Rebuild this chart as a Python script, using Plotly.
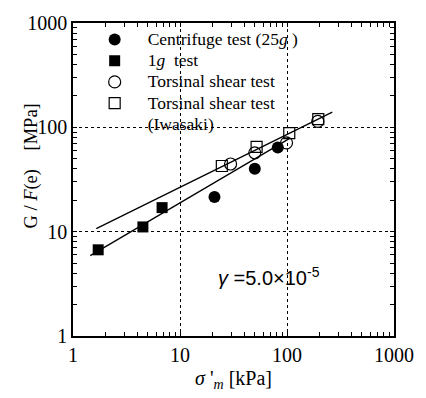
import plotly.graph_objects as go

# Data
cent_x = [21, 50, 82]
cent_y = [21.5, 40, 64]
oneg_x = [1.72, 4.5, 6.8]
oneg_y = [6.7, 11.1, 17]
tors_x = [29.7, 50, 99, 194]
tors_y = [44.5, 57, 71, 114]
iwa_x = [24.6, 52, 105, 196]
iwa_y = [42.6, 65, 88, 120]

# fitted lines (end points)
fit_upper_x = [1.65, 265]
fit_upper_y = [10.7, 140]
fit_lower_x = [1.45, 105]
fit_lower_y = [5.9, 78]

serif = "Liberation Serif"


def big(s):
    return '<span style="font-size:17.5px">' + s + '</span>'


fig = go.Figure()
fig.add_trace(go.Scatter(x=fit_upper_x, y=fit_upper_y, mode="lines",
                         line=dict(color="black", width=1.3), showlegend=False))
fig.add_trace(go.Scatter(x=fit_lower_x, y=fit_lower_y, mode="lines",
                         line=dict(color="black", width=1.3), showlegend=False))
fig.add_trace(go.Scatter(x=cent_x, y=cent_y, mode="markers", name=big("Centrifuge test (25<i>g</i> )"),
                         marker=dict(symbol="circle", size=12, color="black")))
fig.add_trace(go.Scatter(x=oneg_x, y=oneg_y, mode="markers", name=big("1<i>g</i>&nbsp;&nbsp;test"),
                         marker=dict(symbol="square", size=11, color="black")))
fig.add_trace(go.Scatter(x=tors_x, y=tors_y, mode="markers", name=big("Torsinal shear test"),
                         marker=dict(symbol="circle-open", size=12, color="black", line=dict(width=1.2))))
fig.add_trace(go.Scatter(x=iwa_x, y=iwa_y, mode="markers", name=big("Torsinal shear test"),
                         legendgroup="iwa",
                         marker=dict(symbol="square-open", size=11, color="black", line=dict(width=1.2))))
# second line of the Iwasaki legend label
fig.add_trace(go.Scatter(x=[None], y=[None], mode="markers", name=big("(Iwasaki)"),
                         legendgroup="iwa",
                         marker=dict(symbol="square-open", size=11, color="rgba(0,0,0,0)")))

axis_common = dict(
    type="log", range=[0, 3], dtick=1,
    showline=True, linecolor="black", linewidth=1.5, mirror="allticks",
    ticks="inside", ticklen=4, tickcolor="black",
    showgrid=True, gridcolor="black", gridwidth=1, griddash="dot",
    minor=dict(ticks="inside", ticklen=4, tickcolor="black", showgrid=False),
    tickfont=dict(family=serif, size=20, color="black"),
    zeroline=False,
)
fig.update_xaxes(**axis_common,
                 title=dict(text="<i>σ</i>&nbsp;'<sub><i>m</i></sub>&nbsp;[kPa]",
                            font=dict(family=serif, size=20, color="black"), standoff=6))
fig.update_yaxes(**axis_common)

fig.add_annotation(text="G / <i>F</i>(e)&nbsp;&nbsp;&nbsp;&nbsp;[MPa]", textangle=-90,
                   xref="paper", yref="paper", x=-0.169, y=0.542, showarrow=False,
                   font=dict(family=serif, size=18.5, color="black"))
fig.add_annotation(text="<i>γ</i> =5.0×10<sup>-5</sup>", xref="paper", yref="paper",
                   x=0.445, y=0.191, xanchor="left", yanchor="middle", showarrow=False,
                   font=dict(family="Liberation Sans", size=20, color="black"))

fig.update_layout(
    width=426, height=398,
    margin=dict(l=73, r=21, t=16, b=58),
    plot_bgcolor="white", paper_bgcolor="white",
    legend=dict(x=0.027, y=0.997, xanchor="left", yanchor="top",
                bgcolor="rgba(0,0,0,0)", borderwidth=0, itemwidth=56, valign="top",
                font=dict(family=serif, size=14, color="black"), tracegroupgap=0),
)
fig.write_html("out.html")
